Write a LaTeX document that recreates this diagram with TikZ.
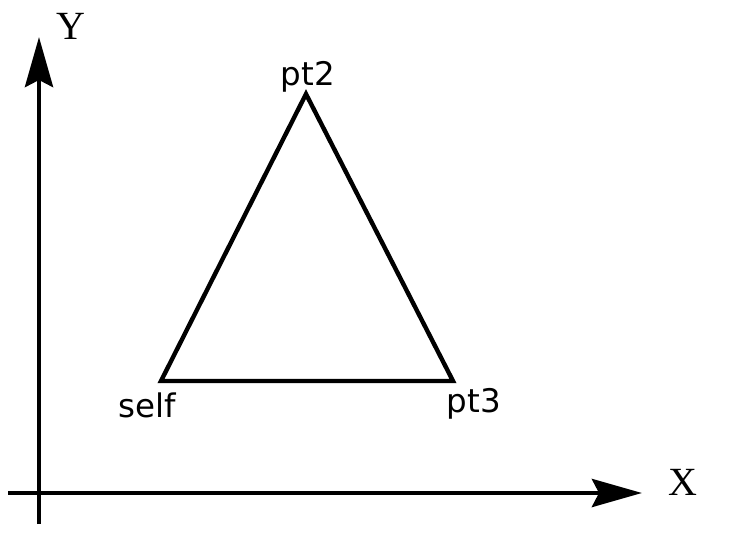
\documentclass[tikz,border=0pt]{standalone}
\usepackage{fontspec}
\setmainfont{Liberation Serif}
\newfontfamily\lblfont{DejaVu Sans}
\usetikzlibrary{arrows.meta}
\tikzset{
  axis/.style={line width=4.8pt, -{Stealth[length=50pt,width=28pt,inset=7pt]}},
  tri/.style={line width=4.4pt, line join=miter},
  ptlabel/.style={font=\lblfont\fontsize{32.5}{36}\selectfont, inner sep=0pt},
  axlabel/.style={font=\fontsize{40}{44}\selectfont, inner sep=0pt}
}
\begin{document}
\begin{tikzpicture}[x=1pt,y=-1pt]
\useasboundingbox (0,0) rectangle (742,544);
\coordinate (xs) at (8,493);
\coordinate (xe) at (642,493);
\coordinate (ys) at (39,524);
\coordinate (ye) at (39,37);
\draw[axis] (xs) -- (xe);
\draw[axis] (ys) -- (ye);
\coordinate (self) at (161,381);
\coordinate (pt2) at (306,94);
\coordinate (pt3) at (453,381);
\draw[tri] (self) -- (pt2) -- (pt3) -- cycle;
\node[ptlabel] (lself) at (147,405) {self};
\node[ptlabel] (lpt2) at (308,77) {pt2};
\node[ptlabel] (lpt3) at (474,404) {pt3};
\node[axlabel] (ly) at (71,26) {Y};
\node[axlabel] (lx) at (683,482) {X};
\end{tikzpicture}
\end{document}
